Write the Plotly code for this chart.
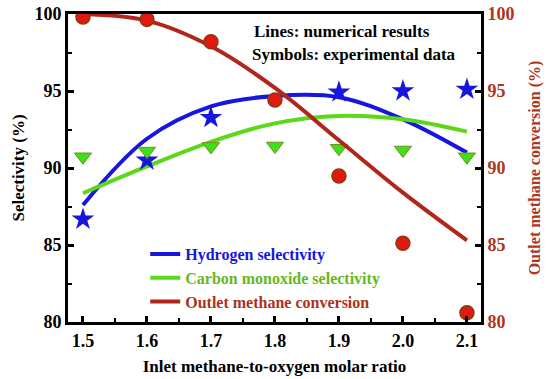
import plotly.graph_objects as go

ratio = [1.5, 1.6, 1.7, 1.8, 1.9, 2.0, 2.1]

# numerical results (lines)
h2_model = [87.6, 91.9, 94.0, 94.68, 94.6, 93.16, 91.0]
co_model = [88.36, 90.1, 91.7, 92.9, 93.38, 93.16, 92.36]
ch4_model = [100.0, 99.57, 97.9, 95.2, 91.8, 88.4, 85.3]

# experimental data (symbols)
h2_exp_x = [1.5, 1.6, 1.7, 1.9, 2.0, 2.1]
h2_exp = [86.67, 90.5, 93.27, 94.92, 95.0, 95.1]
co_exp = [90.73, 91.1, 91.4, 91.43, 91.28, 91.17, 90.73]
ch4_exp = [99.8, 99.65, 98.2, 94.42, 89.48, 85.11, 80.6]

x_ticks = [1.5, 1.6, 1.7, 1.8, 1.9, 2.0, 2.1]
x_ticklabels = ["1.5", "1.6", "1.7", "1.8", "1.9", "2.0", "2.1"]
y_ticks = [80, 85, 90, 95, 100]

BLUE = "#1616DC"
GREEN = "#5CD81A"
RED = "#B0261A"
FONT = "Liberation Serif"

fig = go.Figure()

fig.add_trace(go.Scatter(x=ratio, y=h2_model, mode="lines", line=dict(color=BLUE, width=4, shape="spline"),
                         name='<b><span style="color:#1616DC">Hydrogen selectivity</span></b>'))
fig.add_trace(go.Scatter(x=ratio, y=co_model, mode="lines", line=dict(color=GREEN, width=4, shape="spline"),
                         name='<b><span style="color:#66B822">Carbon monoxide selectivity</span></b>'))
fig.add_trace(go.Scatter(x=h2_exp_x, y=h2_exp, mode="markers", showlegend=False,
                         marker=dict(symbol="star", size=17, color=BLUE, line=dict(width=0))))
fig.add_trace(go.Scatter(x=ratio, y=co_exp, mode="markers", showlegend=False,
                         marker=dict(symbol="triangle-down", size=15, color="#3EE01A",
                                     line=dict(width=1, color="#7A8A20"))))
fig.add_trace(go.Scatter(x=ratio, y=ch4_model, mode="lines", yaxis="y2",
                         line=dict(color=RED, width=4, shape="spline"),
                         name='<b><span style="color:#A8341C">Outlet methane conversion</span></b>'))
fig.add_trace(go.Scatter(x=ratio, y=ch4_exp, mode="markers", yaxis="y2", showlegend=False,
                         marker=dict(symbol="circle", size=14, color="#E01A10",
                                     line=dict(width=1.5, color="#8A3A10"))))

axis_common = dict(showline=True, linewidth=3, linecolor="black", ticks="inside", automargin=False,
                   tickwidth=3, ticklen=6, tickcolor="black", zeroline=False, showgrid=False)

fig.update_layout(
    width=550, height=379,
    margin=dict(l=68, r=69, t=14, b=57, autoexpand=False),
    paper_bgcolor="white", plot_bgcolor="white",
    font=dict(family=FONT, size=16, color="black"),
    xaxis=dict(range=[1.4766, 2.122], tickvals=x_ticks, ticktext=x_ticklabels,
               mirror=True, **axis_common,
               minor=dict(ticks="inside", ticklen=4, tickwidth=2, tickcolor="black", dtick=0.05, tick0=1.5),
               tickfont=dict(family=FONT, size=18, color="black", weight="bold"),
               title=dict(text="<b>Inlet methane-to-oxygen molar ratio</b>",
                          font=dict(family=FONT, size=17), standoff=11)),
    yaxis=dict(range=[80, 100], tickvals=y_ticks, mirror=True, **axis_common,
               minor=dict(ticks="inside", ticklen=4, tickwidth=2, tickcolor="black", dtick=2.5),
               tickfont=dict(family=FONT, size=18, color="black", weight="bold"),
               title=dict(text="<b>Selectivity (%)</b>", font=dict(family=FONT, size=17), standoff=6)),
    yaxis2=dict(range=[80, 100], tickvals=y_ticks, overlaying="y", side="right", **axis_common,
                minor=dict(ticks="inside", ticklen=4, tickwidth=2, tickcolor="black", dtick=2.5),
                tickfont=dict(family=FONT, size=18, color="#B0341E", weight="bold"),
                title=dict(text="<b>Outlet methane conversion (%)</b>",
                           font=dict(family=FONT, size=16, color="#B0341E"), standoff=16)),
    legend=dict(x=0.187, y=0.276, xanchor="left", yanchor="top", bgcolor="rgba(0,0,0,0)",
                font=dict(family=FONT, size=16), itemwidth=30, tracegroupgap=0),
    annotations=[
        dict(text="<b>Lines: numerical results</b>", xref="paper", yref="paper",
             x=(252 - 68) / 413, y=(322 - 32) / 308, xanchor="left", yanchor="middle",
             showarrow=False, font=dict(family=FONT, size=17, color="black")),
        dict(text="<b>Symbols: experimental data</b>", xref="paper", yref="paper",
             x=(250 - 68) / 413, y=(322 - 55) / 308, xanchor="left", yanchor="middle",
             showarrow=False, font=dict(family=FONT, size=17, color="black")),
    ],
)

fig.write_html("out.html", config={"displayModeBar": False},
               post_script="document.body.style.margin='0px';")
